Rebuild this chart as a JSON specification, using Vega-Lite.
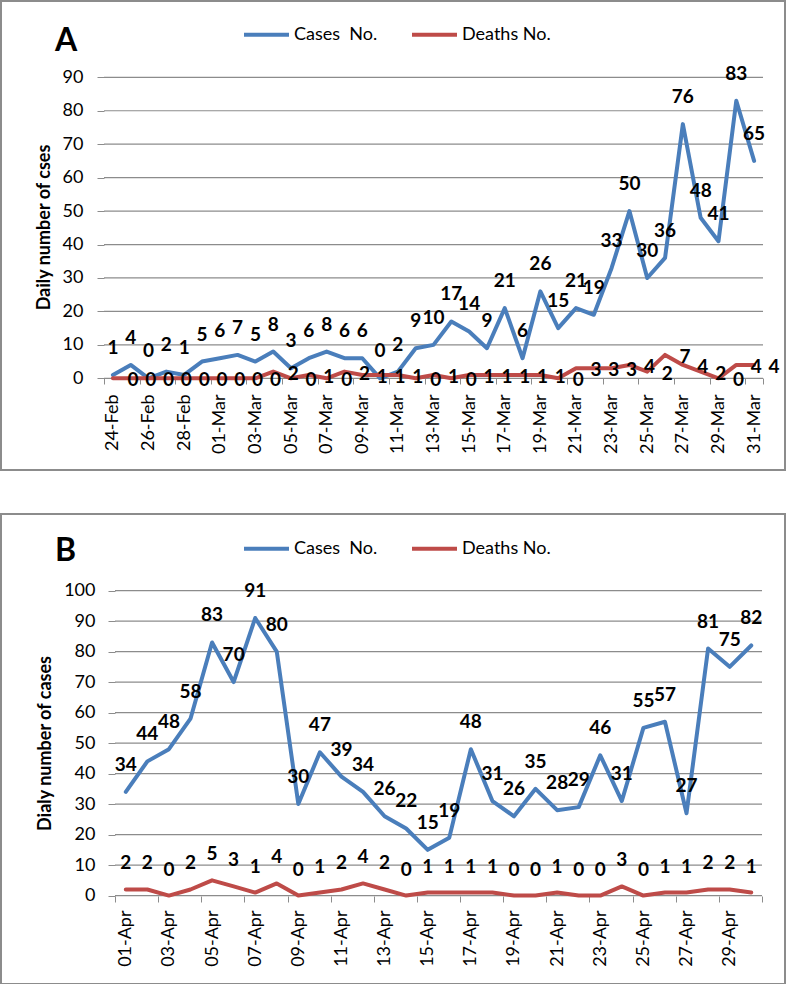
{
  "$schema": "https://vega.github.io/schema/vega-lite/v6.json",
  "padding": {"left": 0, "top": 0, "right": 0, "bottom": 0},
  "background": "white",
  "spacing": 42,
  "resolve": {"scale": {"color": "independent"}, "legend": {"color": "independent"}},
  "config": {
    "font": "Lato",
    "view": {"stroke": "#8c8c8c", "strokeWidth": 2},
    "axis": {"grid": false, "domain": false, "tickColor": "#8c8c8c", "labelColor": "black", "labelFont": "Lato", "titleFont": "Lato", "titleColor": "black"},
    "legend": {"labelFont": "Lato", "labelColor": "black"}
  },
  "datasets": {
    "a": [
      {"date": "2020-02-24", "cases": 1, "deaths": 0},
      {"date": "2020-02-25", "cases": 4, "deaths": 0},
      {"date": "2020-02-26", "cases": 0, "deaths": 0},
      {"date": "2020-02-27", "cases": 2, "deaths": 0},
      {"date": "2020-02-28", "cases": 1, "deaths": 0},
      {"date": "2020-02-29", "cases": 5, "deaths": 0},
      {"date": "2020-03-01", "cases": 6, "deaths": 0},
      {"date": "2020-03-02", "cases": 7, "deaths": 0},
      {"date": "2020-03-03", "cases": 5, "deaths": 0},
      {"date": "2020-03-04", "cases": 8, "deaths": 2},
      {"date": "2020-03-05", "cases": 3, "deaths": 0},
      {"date": "2020-03-06", "cases": 6, "deaths": 1},
      {"date": "2020-03-07", "cases": 8, "deaths": 0},
      {"date": "2020-03-08", "cases": 6, "deaths": 2},
      {"date": "2020-03-09", "cases": 6, "deaths": 1},
      {"date": "2020-03-10", "cases": 0, "deaths": 1},
      {"date": "2020-03-11", "cases": 2, "deaths": 1},
      {"date": "2020-03-12", "cases": 9, "deaths": 0},
      {"date": "2020-03-13", "cases": 10, "deaths": 1},
      {"date": "2020-03-14", "cases": 17, "deaths": 0},
      {"date": "2020-03-15", "cases": 14, "deaths": 1},
      {"date": "2020-03-16", "cases": 9, "deaths": 1},
      {"date": "2020-03-17", "cases": 21, "deaths": 1},
      {"date": "2020-03-18", "cases": 6, "deaths": 1},
      {"date": "2020-03-19", "cases": 26, "deaths": 1},
      {"date": "2020-03-20", "cases": 15, "deaths": 0},
      {"date": "2020-03-21", "cases": 21, "deaths": 3},
      {"date": "2020-03-22", "cases": 19, "deaths": 3},
      {"date": "2020-03-23", "cases": 33, "deaths": 3},
      {"date": "2020-03-24", "cases": 50, "deaths": 4},
      {"date": "2020-03-25", "cases": 30, "deaths": 2},
      {"date": "2020-03-26", "cases": 36, "deaths": 7},
      {"date": "2020-03-27", "cases": 76, "deaths": 4},
      {"date": "2020-03-28", "cases": 48, "deaths": 2},
      {"date": "2020-03-29", "cases": 41, "deaths": 0},
      {"date": "2020-03-30", "cases": 83, "deaths": 4},
      {"date": "2020-03-31", "cases": 65, "deaths": 4}
    ],
    "b": [
      {"date": "2020-04-01", "cases": 34, "deaths": 2},
      {"date": "2020-04-02", "cases": 44, "deaths": 2},
      {"date": "2020-04-03", "cases": 48, "deaths": 0},
      {"date": "2020-04-04", "cases": 58, "deaths": 2},
      {"date": "2020-04-05", "cases": 83, "deaths": 5},
      {"date": "2020-04-06", "cases": 70, "deaths": 3},
      {"date": "2020-04-07", "cases": 91, "deaths": 1},
      {"date": "2020-04-08", "cases": 80, "deaths": 4},
      {"date": "2020-04-09", "cases": 30, "deaths": 0},
      {"date": "2020-04-10", "cases": 47, "deaths": 1},
      {"date": "2020-04-11", "cases": 39, "deaths": 2},
      {"date": "2020-04-12", "cases": 34, "deaths": 4},
      {"date": "2020-04-13", "cases": 26, "deaths": 2},
      {"date": "2020-04-14", "cases": 22, "deaths": 0},
      {"date": "2020-04-15", "cases": 15, "deaths": 1},
      {"date": "2020-04-16", "cases": 19, "deaths": 1},
      {"date": "2020-04-17", "cases": 48, "deaths": 1},
      {"date": "2020-04-18", "cases": 31, "deaths": 1},
      {"date": "2020-04-19", "cases": 26, "deaths": 0},
      {"date": "2020-04-20", "cases": 35, "deaths": 0},
      {"date": "2020-04-21", "cases": 28, "deaths": 1},
      {"date": "2020-04-22", "cases": 29, "deaths": 0},
      {"date": "2020-04-23", "cases": 46, "deaths": 0},
      {"date": "2020-04-24", "cases": 31, "deaths": 3},
      {"date": "2020-04-25", "cases": 55, "deaths": 0},
      {"date": "2020-04-26", "cases": 57, "deaths": 1},
      {"date": "2020-04-27", "cases": 27, "deaths": 1},
      {"date": "2020-04-28", "cases": 81, "deaths": 2},
      {"date": "2020-04-29", "cases": 75, "deaths": 2},
      {"date": "2020-04-30", "cases": 82, "deaths": 1}
    ],
    "gridA": [{"v": 0}, {"v": 10}, {"v": 20}, {"v": 30}, {"v": 40}, {"v": 50}, {"v": 60}, {"v": 70}, {"v": 80}, {"v": 90}],
    "gridB": [{"v": 0}, {"v": 10}, {"v": 20}, {"v": 30}, {"v": 40}, {"v": 50}, {"v": 60}, {"v": 70}, {"v": 80}, {"v": 90}, {"v": 100}]
  },
  "vconcat": [
    {
      "width": 784,
      "height": 469,
      "title": {"text": "A", "anchor": "start", "frame": "group", "fontSize": 32, "fontWeight": "bold", "font": "Lato", "color": "black", "baseline": "middle", "offset": -72, "dx": 54},
      "layer": [
        {
          "data": {"name": "gridA"},
          "mark": {"type": "rule", "color": "#8c8c8c", "strokeWidth": 1.2},
          "encoding": {
            "y": {"field": "v", "type": "quantitative", "scale": {"domain": [-27.42, 112.82], "nice": false, "zero": false}},
            "x": {"datum": {"year": 2020, "month": "Feb", "date": 23, "hours": 12, "utc": true}, "type": "temporal", "scale": {"type": "utc", "domain": [{"year": 2020, "month": "Feb", "date": 17, "hours": 17, "minutes": 12, "utc": true}, {"year": 2020, "month": "Apr", "date": 1, "hours": 17, "minutes": 38, "utc": true}], "nice": false}},
            "x2": {"datum": {"year": 2020, "month": "Mar", "date": 31, "hours": 12, "utc": true}}
          }
        },
        {
          "mark": {"type": "rule", "color": "#8c8c8c", "strokeWidth": 1.2},
          "encoding": {
            "x": {"datum": {"year": 2020, "month": "Feb", "date": 23, "hours": 12, "utc": true}, "type": "temporal"},
            "y": {"datum": 0, "type": "quantitative"},
            "y2": {"datum": 90}
          }
        },
        {
          "data": {"name": "a"},
          "transform": [{"fold": ["cases", "deaths"], "as": ["series", "value"]}],
          "mark": {"type": "line", "strokeWidth": 4, "strokeJoin": "round", "strokeCap": "round"},
          "encoding": {
            "x": {
              "field": "date", "type": "temporal",
              "axis": {
                "orient": "bottom", "offset": -92, "title": null,
                "values": [
                  {"year": 2020, "month": "Feb", "date": 24, "utc": true},
                  {"year": 2020, "month": "Feb", "date": 26, "utc": true},
                  {"year": 2020, "month": "Feb", "date": 28, "utc": true},
                  {"year": 2020, "month": "Mar", "date": 1, "utc": true},
                  {"year": 2020, "month": "Mar", "date": 3, "utc": true},
                  {"year": 2020, "month": "Mar", "date": 5, "utc": true},
                  {"year": 2020, "month": "Mar", "date": 7, "utc": true},
                  {"year": 2020, "month": "Mar", "date": 9, "utc": true},
                  {"year": 2020, "month": "Mar", "date": 11, "utc": true},
                  {"year": 2020, "month": "Mar", "date": 13, "utc": true},
                  {"year": 2020, "month": "Mar", "date": 15, "utc": true},
                  {"year": 2020, "month": "Mar", "date": 17, "utc": true},
                  {"year": 2020, "month": "Mar", "date": 19, "utc": true},
                  {"year": 2020, "month": "Mar", "date": 21, "utc": true},
                  {"year": 2020, "month": "Mar", "date": 23, "utc": true},
                  {"year": 2020, "month": "Mar", "date": 25, "utc": true},
                  {"year": 2020, "month": "Mar", "date": 27, "utc": true},
                  {"year": 2020, "month": "Mar", "date": 29, "utc": true},
                  {"year": 2020, "month": "Mar", "date": 31, "utc": true},
                  {"year": 2020, "month": "Apr", "date": 1, "utc": true}
                ],
                "labelExpr": "utcFormat(datum.value, '%b') == 'Apr' ? '' : utcFormat(datum.value, '%d-%b')",
                "labelAngle": 270, "labelAlign": "right", "labelBaseline": "middle", "labelFontSize": 18,
                "tickSize": 6, "tickOffset": -8.9, "labelOffset": 8.9, "labelPadding": 10,
                "labelOverlap": false, "labelBound": false, "labelFlush": false
              }
            },
            "y": {
              "field": "value", "type": "quantitative",
              "axis": {
                "orient": "left", "offset": -103, "values": [0, 10, 20, 30, 40, 50, 60, 70, 80, 90],
                "labelFontSize": 18, "tickSize": 7, "labelPadding": 14,
                "title": "Daily number of cses", "titleFontSize": 18, "titleFontWeight": "bold", "titlePadding": 9, "titleY": 226
              }
            },
            "color": {
              "field": "series", "type": "nominal",
              "scale": {"domain": ["cases", "deaths"], "range": ["#4a7ebb", "#be4b48"]},
              "legend": {
                "orient": "none", "legendX": 241, "legendY": 9, "direction": "horizontal", "title": null,
                "symbolType": "stroke", "symbolSize": 2025, "symbolStrokeWidth": 4,
                "labelFontSize": 18, "labelOffset": 3, "columnPadding": 26, "padding": 0, "labelLimit": 300,
                "labelExpr": "datum.label == 'cases' ? 'Cases\u00a0\u00a0No.' : 'Deaths No.'"
              }
            }
          }
        },
        {
          "data": {"name": "a"},
          "mark": {"type": "text", "fontWeight": "bold", "fontSize": 19, "dy": -27, "baseline": "middle", "color": "black"},
          "encoding": {
            "x": {"field": "date", "type": "temporal"},
            "y": {"field": "cases", "type": "quantitative"},
            "text": {"field": "cases", "type": "quantitative"}
          }
        },
        {
          "data": {"name": "a"},
          "mark": {"type": "text", "fontWeight": "bold", "fontSize": 19, "dx": 20, "dy": 2, "baseline": "middle", "color": "black"},
          "encoding": {
            "x": {"field": "date", "type": "temporal"},
            "y": {"field": "deaths", "type": "quantitative"},
            "text": {"field": "deaths", "type": "quantitative"}
          }
        }
      ]
    },
    {
      "width": 784,
      "height": 470,
      "title": {"text": "B", "anchor": "start", "frame": "group", "fontSize": 32, "fontWeight": "bold", "font": "Lato", "color": "black", "baseline": "middle", "offset": -69, "dx": 54},
      "layer": [
        {
          "data": {"name": "gridB"},
          "mark": {"type": "rule", "color": "#8c8c8c", "strokeWidth": 1.2},
          "encoding": {
            "y": {"field": "v", "type": "quantitative", "scale": {"domain": [-28.98, 125.1], "nice": false, "zero": false}},
            "x": {"datum": {"year": 2020, "month": "Mar", "date": 31, "hours": 12, "utc": true}, "type": "temporal", "scale": {"type": "utc", "domain": [{"year": 2020, "month": "Mar", "date": 26, "hours": 5, "minutes": 8, "utc": true}, {"year": 2020, "month": "May", "date": 1, "hours": 13, "minutes": 35, "utc": true}], "nice": false}},
            "x2": {"datum": {"year": 2020, "month": "Apr", "date": 30, "hours": 12, "utc": true}}
          }
        },
        {
          "mark": {"type": "rule", "color": "#8c8c8c", "strokeWidth": 1.2},
          "encoding": {
            "x": {"datum": {"year": 2020, "month": "Mar", "date": 31, "hours": 12, "utc": true}, "type": "temporal"},
            "y": {"datum": 0, "type": "quantitative"},
            "y2": {"datum": 100}
          }
        },
        {
          "data": {"name": "b"},
          "transform": [{"fold": ["cases", "deaths"], "as": ["series", "value"]}],
          "mark": {"type": "line", "strokeWidth": 4, "strokeJoin": "round", "strokeCap": "round"},
          "encoding": {
            "x": {
              "field": "date", "type": "temporal",
              "axis": {
                "orient": "bottom", "offset": -88, "title": null,
                "values": [
                  {"year": 2020, "month": "Apr", "date": 1, "utc": true},
                  {"year": 2020, "month": "Apr", "date": 3, "utc": true},
                  {"year": 2020, "month": "Apr", "date": 5, "utc": true},
                  {"year": 2020, "month": "Apr", "date": 7, "utc": true},
                  {"year": 2020, "month": "Apr", "date": 9, "utc": true},
                  {"year": 2020, "month": "Apr", "date": 11, "utc": true},
                  {"year": 2020, "month": "Apr", "date": 13, "utc": true},
                  {"year": 2020, "month": "Apr", "date": 15, "utc": true},
                  {"year": 2020, "month": "Apr", "date": 17, "utc": true},
                  {"year": 2020, "month": "Apr", "date": 19, "utc": true},
                  {"year": 2020, "month": "Apr", "date": 21, "utc": true},
                  {"year": 2020, "month": "Apr", "date": 23, "utc": true},
                  {"year": 2020, "month": "Apr", "date": 25, "utc": true},
                  {"year": 2020, "month": "Apr", "date": 27, "utc": true},
                  {"year": 2020, "month": "Apr", "date": 29, "utc": true},
                  {"year": 2020, "month": "May", "date": 1, "utc": true}
                ],
                "labelExpr": "utcFormat(datum.value, '%b') == 'May' ? '' : utcFormat(datum.value, '%d-%b')",
                "labelAngle": 270, "labelAlign": "right", "labelBaseline": "middle", "labelFontSize": 18,
                "tickSize": 6, "tickOffset": -10.78, "labelOffset": 10.78, "labelPadding": 8,
                "labelOverlap": false, "labelBound": false, "labelFlush": false
              }
            },
            "y": {
              "field": "value", "type": "quantitative",
              "axis": {
                "orient": "left", "offset": -114, "values": [0, 10, 20, 30, 40, 50, 60, 70, 80, 90, 100],
                "labelFontSize": 18, "tickSize": 7, "labelPadding": 13,
                "title": "Dialy number of cases", "titleFontSize": 18, "titleFontWeight": "bold", "titlePadding": 9, "titleY": 229
              }
            },
            "color": {
              "field": "series", "type": "nominal",
              "scale": {"domain": ["cases", "deaths"], "range": ["#4a7ebb", "#be4b48"]},
              "legend": {
                "orient": "none", "legendX": 241, "legendY": 10, "direction": "horizontal", "title": null,
                "symbolType": "stroke", "symbolSize": 2025, "symbolStrokeWidth": 4,
                "labelFontSize": 18, "labelOffset": 3, "columnPadding": 26, "padding": 0, "labelLimit": 300,
                "labelExpr": "datum.label == 'cases' ? 'Cases\u00a0\u00a0No.' : 'Deaths No.'"
              }
            }
          }
        },
        {
          "data": {"name": "b"},
          "mark": {"type": "text", "fontWeight": "bold", "fontSize": 19, "dy": -27, "baseline": "middle", "color": "black"},
          "encoding": {
            "x": {"field": "date", "type": "temporal"},
            "y": {"field": "cases", "type": "quantitative"},
            "text": {"field": "cases", "type": "quantitative"}
          }
        },
        {
          "data": {"name": "b"},
          "mark": {"type": "text", "fontWeight": "bold", "fontSize": 19, "dy": -26, "baseline": "middle", "color": "black"},
          "encoding": {
            "x": {"field": "date", "type": "temporal"},
            "y": {"field": "deaths", "type": "quantitative"},
            "text": {"field": "deaths", "type": "quantitative"}
          }
        }
      ]
    }
  ]
}
